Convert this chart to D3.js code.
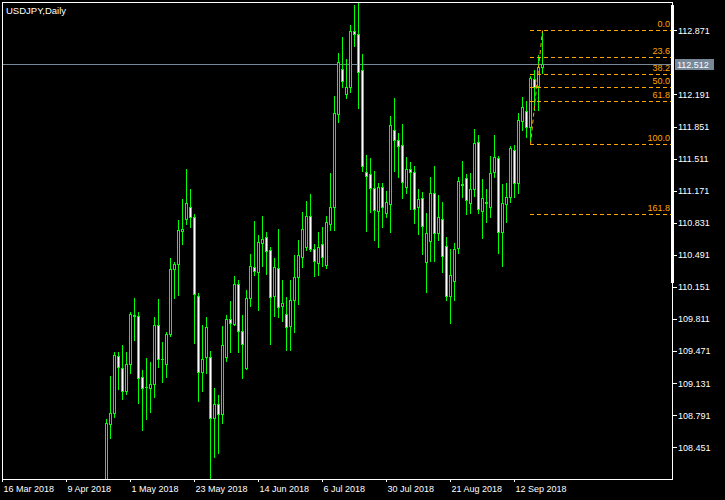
<!DOCTYPE html>
<html><head><meta charset="utf-8">
<script src="https://cdn.jsdelivr.net/npm/d3@7"></script>
<style>
html,body{margin:0;padding:0;background:#000;overflow:hidden}
svg{display:block}
text{font-family:"Liberation Sans",Arial,sans-serif}
</style></head>
<body><svg id="c" width="725" height="500"></svg>
<script>
// ---- data ----
const symbolTitle = "USDJPY,Daily";
const firstBar = 26; // bar index (0 = 16 Mar 2018) of the first visible candle
const dateLabels = ["16 Mar 2018","9 Apr 2018","1 May 2018","23 May 2018","14 Jun 2018","6 Jul 2018","30 Jul 2018","21 Aug 2018","12 Sep 2018"];
const dateTickIndex = [0,16,32,48,64,80,96,112,128];
const priceTicks = [112.871,112.191,111.851,111.511,111.171,110.831,110.491,110.151,109.811,109.471,109.131,108.791,108.451];
const opens = [107.650,108.695,108.811,109.419,109.288,109.051,109.337,109.853,109.843,109.193,
 109.095,109.083,109.119,109.744,109.386,109.331,109.649,110.338,110.391,110.740,
 110.868,111.001,110.889,110.055,109.246,109.405,109.405,108.758,108.907,108.800,
 109.411,109.807,109.761,110.182,109.684,109.288,110.030,110.359,110.312,110.613,
 110.683,110.542,110.058,110.348,109.952,109.861,109.740,110.012,110.253,110.471,
 110.577,110.903,110.550,110.401,110.603,110.383,110.815,111.001,111.981,112.461,
 112.196,112.267,112.860,112.829,112.447,111.366,111.348,111.196,110.959,111.207,
 110.931,111.027,111.814,111.708,111.655,111.213,111.401,111.366,110.995,111.090,
 110.418,110.641,111.143,110.726,110.868,110.585,110.055,110.217,110.560,111.245,
 111.302,111.044,111.186,111.684,110.959,111.047,110.995,111.366,111.514,110.736,
 111.027,111.101,111.602,111.256,111.913,112.019,111.843,112.351,112.280,112.485];
const highs = [108.751,109.207,109.458,109.464,109.535,109.458,109.882,110.033,109.885,109.270,
 109.397,109.355,109.832,110.023,109.564,109.673,110.454,110.415,110.860,111.083,
 111.401,111.189,110.921,110.083,109.747,109.832,109.472,109.083,109.005,109.740,
 109.853,110.002,110.267,110.224,109.853,110.118,110.500,110.850,110.701,110.903,
 110.730,110.571,110.461,110.765,110.224,110.047,110.224,110.489,110.648,110.942,
 111.062,111.133,110.606,110.730,110.783,110.903,111.362,112.175,112.634,112.803,
 112.564,112.924,113.139,113.180,112.620,111.549,111.514,111.380,111.256,111.249,
 111.168,111.963,112.157,111.782,111.878,111.525,111.472,111.436,111.189,111.160,
 110.938,111.319,111.436,111.125,111.054,110.683,110.553,110.613,111.313,111.486,
 111.348,111.355,111.825,111.761,111.292,111.189,111.539,111.761,111.539,111.242,
 111.249,111.645,111.655,111.991,112.167,112.125,112.386,112.450,112.609,112.860];
const lows = [107.600,108.546,108.775,109.066,108.963,109.019,109.235,109.588,108.924,108.634,
 108.754,108.828,108.987,109.305,109.146,109.199,109.630,110.037,110.065,110.606,
 110.818,110.783,109.553,108.945,109.051,109.242,108.100,108.351,108.387,108.712,
 109.369,109.464,109.750,109.464,109.189,109.281,109.952,110.277,109.906,110.373,
 110.288,109.546,109.846,109.835,109.790,109.482,109.482,109.676,109.967,110.365,
 110.542,110.530,110.267,110.277,110.373,110.348,110.754,110.754,111.902,112.267,
 112.157,112.220,112.708,112.044,111.383,110.747,110.948,110.648,110.577,110.789,
 110.889,110.736,111.383,111.313,111.097,111.143,110.977,110.832,110.709,110.500,
 110.100,110.429,110.429,110.648,110.312,110.012,109.772,110.012,110.514,111.107,
 110.924,110.931,111.115,110.938,110.673,110.842,110.895,111.319,110.514,110.376,
 110.842,111.054,111.107,111.150,111.814,111.737,111.700,112.026,112.026,112.421];
const closes = [108.705,108.811,109.429,109.299,109.051,109.331,109.861,109.840,109.189,109.076,
 109.090,109.119,109.744,109.384,109.382,109.649,110.338,110.391,110.751,110.765,
 111.037,110.889,110.073,109.246,109.384,109.723,108.758,108.907,108.800,109.535,
 109.807,109.772,110.182,109.687,109.543,110.030,110.373,110.323,110.624,110.659,
 110.535,110.047,110.359,109.941,109.977,109.729,110.012,110.253,110.486,110.762,
 110.903,110.553,110.429,110.577,110.465,110.842,110.995,111.991,112.532,112.337,
 112.267,112.860,112.835,112.432,111.436,111.330,111.196,110.966,111.213,111.001,
 111.054,111.867,111.708,111.648,111.266,111.398,111.372,110.974,111.083,110.800,
 110.719,111.143,110.726,110.889,110.482,110.055,110.277,110.550,111.274,111.235,
 111.072,111.186,111.673,110.974,111.090,111.041,111.355,111.525,110.736,111.037,
 111.101,111.620,111.249,111.920,112.055,111.843,112.362,112.267,112.485,112.512];
const bidPrice = 112.512;
const fibHigh = 112.871, fibLow = 111.666;
const fibHighBar = 135, fibLowBar = 132;
const fibLevels = [0, 23.6, 38.2, 50.0, 61.8, 100.0, 161.8];

// ---- drawing ----
const W = 725, H = 500;
const LIME = "#00ff00", ORANGE = "#ffa500", SLATE = "#778899";
const svg = d3.select("#c");
svg.append("rect").attr("width", W).attr("height", H).attr("fill", "#000");

const x = d3.scaleLinear().domain([0, 135]).range([2, 542]);
const y = d3.scaleLinear().domain([108.451, 112.871]).range([447.3, 30.3]);
const R = Math.round;

const defs = svg.append("defs");
defs.append("clipPath").attr("id", "plot").append("rect")
  .attr("x", 3).attr("y", 3).attr("width", 669).attr("height", 476);

const plot = svg.append("g").attr("clip-path", "url(#plot)").attr("shape-rendering", "crispEdges");

// bid line
plot.append("rect").attr("x", 3).attr("y", R(y(bidPrice))).attr("width", 669).attr("height", 1).attr("fill", SLATE);

// candles
const candles = opens.map((o, k) => ({i: firstBar + k, o, h: highs[k], l: lows[k], c: closes[k]}));
const cg = plot.selectAll("g.candle").data(candles).join("g").attr("class", "candle");
cg.each(function(d) {
  const g = d3.select(this);
  const cx = R(x(d.i));
  const yh = R(y(d.h)), yl = R(y(d.l));
  g.append("rect").attr("x", cx).attr("y", yh).attr("width", 1).attr("height", yl - yh + 1).attr("fill", LIME);
  const top = R(Math.min(y(d.o), y(d.c))), bot = R(Math.max(y(d.o), y(d.c)));
  g.append("rect").attr("x", cx - 1).attr("y", top).attr("width", 3).attr("height", bot - top + 1).attr("fill", LIME);
  if (bot - top >= 2) {
    g.append("rect").attr("x", cx).attr("y", top + 1).attr("width", 1).attr("height", bot - top - 1)
      .attr("fill", d.c >= d.o ? "#000" : "#fff");
  }
});

// fibonacci
const fg = svg.append("g");
const fx0 = R(x(fibLowBar));
fibLevels.forEach(lv => {
  const p = fibHigh - (fibHigh - fibLow) * lv / 100;
  const py = R(y(p)) + 0.5;
  fg.append("line").attr("x1", fx0).attr("x2", 672).attr("y1", py).attr("y2", py)
    .attr("stroke", ORANGE).attr("stroke-width", 1).attr("stroke-dasharray", "4,3")
    .attr("shape-rendering", "crispEdges");
  fg.append("text").attr("x", 670).attr("y", py - 3.5).attr("text-anchor", "end")
    .attr("fill", ORANGE).attr("font-size", 9).text(lv.toFixed(1));
});
fg.append("line").attr("x1", fx0 + 0.5).attr("y1", R(y(fibLow)) + 0.5)
  .attr("x2", R(x(fibHighBar)) + 0.5).attr("y2", R(y(fibHigh)) + 0.5)
  .attr("stroke", ORANGE).attr("stroke-dasharray", "4,3");

// frame
const fr = svg.append("g").attr("fill", "#fff").attr("shape-rendering", "crispEdges");
fr.append("rect").attr("x", 2).attr("y", 2).attr("width", 671).attr("height", 1);
fr.append("rect").attr("x", 2).attr("y", 2).attr("width", 1).attr("height", 478);
fr.append("rect").attr("x", 2).attr("y", 479).attr("width", 671).attr("height", 1);
fr.append("rect").attr("x", 672).attr("y", 2).attr("width", 1).attr("height", 478);
fr.append("rect").attr("x", 671).attr("y", 5).attr("width", 3).attr("height", 278);

// right price axis
const ya = svg.append("g").attr("transform", "translate(673,0)")
  .call(d3.axisRight(y).tickValues(priceTicks).tickSize(4).tickPadding(1).tickFormat(d3.format(".3f")));
ya.select(".domain").remove();
ya.selectAll("line").attr("stroke", "#fff").attr("shape-rendering", "crispEdges");
ya.selectAll("text").attr("fill", "#fff").attr("font-size", 9).attr("font-family", '"Liberation Sans",Arial,sans-serif');

// bid label
const by = R(y(bidPrice));
svg.append("rect").attr("x", 675).attr("y", by - 5).attr("width", 39).attr("height", 11).attr("fill", SLATE);
svg.append("text").attr("x", 677).attr("y", by + 3.5).attr("fill", "#fff").attr("font-size", 9).text(bidPrice.toFixed(3));

// bottom date axis
const xa = svg.append("g").attr("transform", "translate(0,479)")
  .call(d3.axisBottom(x).tickValues(dateTickIndex).tickSize(3).tickPadding(3.5).tickFormat((d, i) => dateLabels[i]));
xa.select(".domain").remove();
xa.selectAll("line").attr("stroke", "#fff").attr("shape-rendering", "crispEdges");
xa.selectAll("text").attr("fill", "#fff").attr("font-size", 9).attr("text-anchor", "start").attr("x", 1)
  .attr("font-family", '"Liberation Sans",Arial,sans-serif');

// title
svg.append("text").attr("x", 6).attr("y", 13.5).attr("fill", "#fff").attr("font-size", 9.5).text(symbolTitle);
</script></body></html>
